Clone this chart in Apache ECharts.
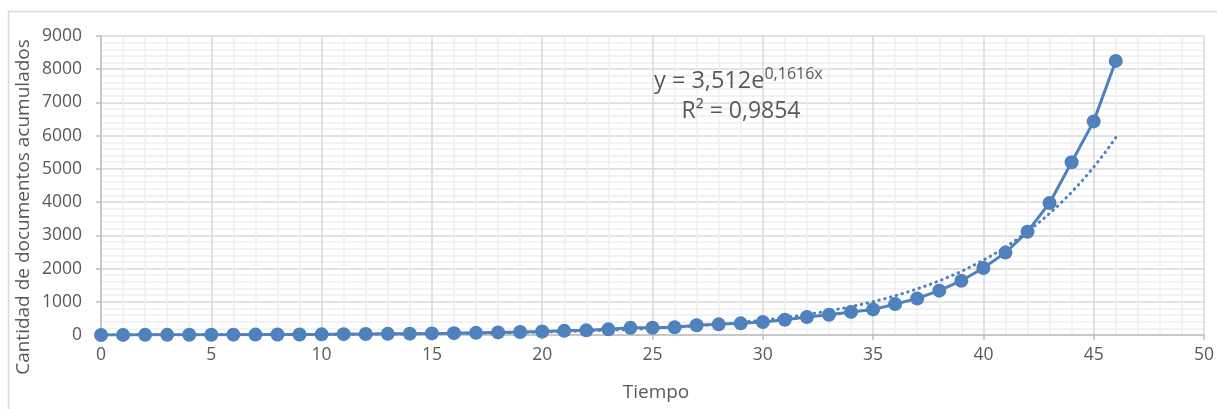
<!DOCTYPE html>
<html>
<head>
<meta charset="utf-8">
<script src="https://cdn.jsdelivr.net/npm/echarts@6/dist/echarts.min.js"></script>
<style>
html,body{margin:0;padding:0;background:#fff;}
#chart{width:1217px;height:409px;}
</style>
</head>
<body>
<div id="chart"></div>
<script>
// Data
const tiempo = [0,1,2,3,4,5,6,7,8,9,10,11,12,13,14,15,16,17,18,19,20,21,22,23,24,25,26,27,28,29,30,31,32,33,34,35,36,37,38,39,40,41,42,43,44,45,46];
const documentos = [2,3,4,5,6,8,10,12,14,17,20,25,30,35,40,48,55,65,78,90,105,125,140,170,215,220,230,295,320,350,390,460,540,610,695,770,930,1100,1335,1635,2015,2480,3110,3975,5200,6430,8250];
// Exponential trendline shown on the chart: y = 3,512 e^(0,1616x)
const TREND_A = 3.512;
const TREND_B = 0.1616;
const xTicks = [0,5,10,15,20,25,30,35,40,45,50];
const yTicks = [0,1000,2000,3000,4000,5000,6000,7000,8000,9000];
const yTitle = 'Cantidad de documentos acumulados';
const xTitle = 'Tiempo';
const eqMain = 'y = 3,512e';
const eqExp = '0,1616x';
const r2Text = 'R² = 0,9854';

const pts = tiempo.map((t, i) => [t, documentos[i]]);
const trend = [];
for (let k = 0; k <= tiempo[tiempo.length - 1] * 4; k++) {
  const x = k / 4;
  trend.push([x, TREND_A * Math.exp(TREND_B * x)]);
}

const FONT = '"Open Sans", "Noto Sans", sans-serif';
const TXT = '#595959';
const BLUE = '#4F81BD';

const chart = echarts.init(document.getElementById('chart'), null, {renderer: 'canvas'});
chart.setOption({
  animation: false,
  backgroundColor: '#ffffff',
  textStyle: {fontFamily: FONT},
  grid: {left: 101, right: 6, top: 36, bottom: 74, containLabel: false},
  xAxis: {
    type: 'value',
    min: xTicks[0], max: xTicks[xTicks.length - 1], interval: 5,
    axisLine: {show: true, lineStyle: {color: '#bfbfbf', width: 1.5}},
    axisTick: {show: true, length: 5, lineStyle: {color: '#bfbfbf', width: 1.5}},
    axisLabel: {color: TXT, fontSize: 17.5, fontFamily: FONT, margin: 11, formatter: v => String(v)},
    splitLine: {show: true, lineStyle: {color: '#d9d9d9', width: 1.5}},
    minorTick: {show: false, splitNumber: 5},
    minorSplitLine: {show: true, lineStyle: {color: '#efefef', width: 1.5}}
  },
  yAxis: {
    type: 'value',
    min: yTicks[0], max: yTicks[yTicks.length - 1], interval: 1000,
    axisLine: {show: true, lineStyle: {color: '#bfbfbf', width: 1.5}},
    axisTick: {show: true, length: 5, lineStyle: {color: '#bfbfbf', width: 1.5}},
    axisLabel: {color: TXT, fontSize: 17.5, fontFamily: FONT, margin: 19, formatter: v => String(v)},
    splitLine: {show: true, lineStyle: {color: '#d9d9d9', width: 1.5}},
    minorTick: {show: false, splitNumber: 5},
    minorSplitLine: {show: true, lineStyle: {color: '#efefef', width: 1.5}}
  },
  series: [
    {
      type: 'line',
      data: trend,
      showSymbol: false,
      smooth: false,
      z: 3,
      lineStyle: {color: BLUE, width: 3, type: [0.5, 5.5], cap: 'round'},
      silent: true
    },
    {
      type: 'line',
      data: pts,
      symbol: 'circle',
      symbolSize: 14,
      z: 4,
      itemStyle: {color: BLUE},
      lineStyle: {color: BLUE, width: 3}
    }
  ],
  graphic: [
    {
      type: 'rect', silent: true, z: -1,
      shape: {x: 8.5, y: 11.5, width: 1230, height: 420},
      style: {fill: 'none', stroke: '#d9d9d9', lineWidth: 1.5}
    },
    {
      type: 'text', x: 24, y: 207, rotation: Math.PI / 2,
      style: {text: yTitle, fill: TXT, font: '19px ' + FONT, align: 'center', verticalAlign: 'middle'}
    },
    {
      type: 'text', x: 656, y: 393,
      style: {text: xTitle, fill: TXT, font: '19px ' + FONT, align: 'center', verticalAlign: 'middle'}
    },
    {
      type: 'text', x: 654, y: 81, z: 10,
      style: {
        text: '{m|' + eqMain + '}{s|' + eqExp + '}',
        align: 'left', verticalAlign: 'middle',
        rich: {
          m: {fontSize: 23.5, fontFamily: FONT, fill: TXT, color: TXT},
          s: {fontSize: 16, fontFamily: FONT, fill: TXT, color: TXT, verticalAlign: 'top', padding: [0, 0, 13, 0]}
        }
      }
    },
    {
      type: 'text', x: 741, y: 111, z: 10,
      style: {text: r2Text, fill: TXT, font: '23px ' + FONT, align: 'center', verticalAlign: 'middle'}
    }
  ]
});
</script>
</body>
</html>
